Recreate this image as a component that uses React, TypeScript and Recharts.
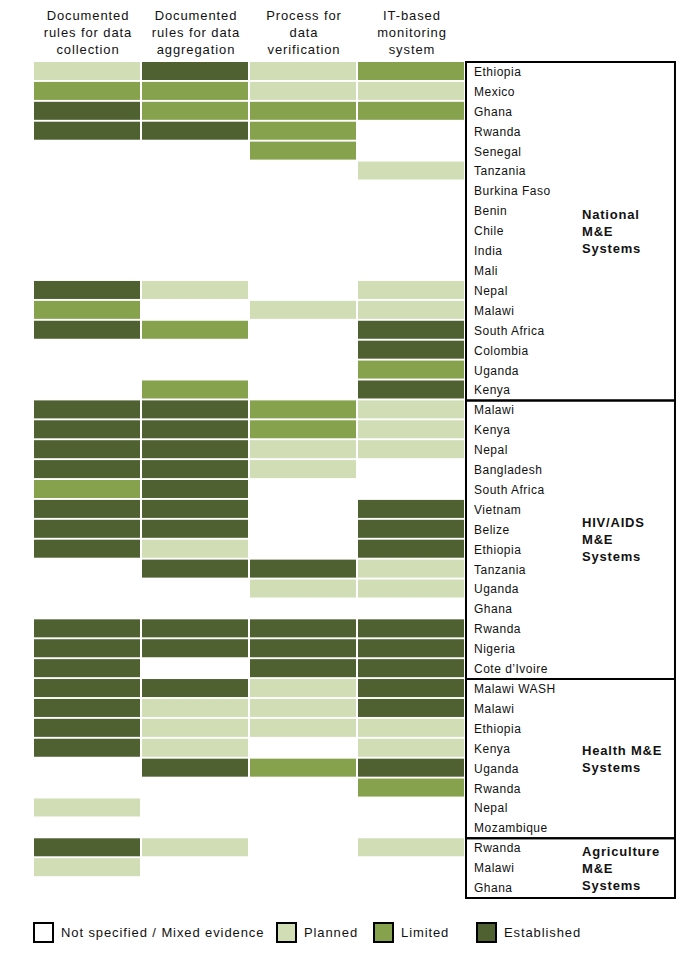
import { BarChart, Bar, XAxis, YAxis, ReferenceArea, Legend } from 'recharts'

// 0 = not specified, 1 = planned, 2 = limited, 3 = established
const columnHeaders = [
  ['Documented', 'rules for data', 'collection'],
  ['Documented', 'rules for data', 'aggregation'],
  ['Process for', 'data', 'verification'],
  ['IT-based', 'monitoring', 'system'],
]

const statusLabels = ['Not specified / Mixed evidence', 'Planned', 'Limited', 'Established']
const statusColors = ['#ffffff', '#d0ddb5', '#86a24c', '#4f6031']

const nationalTitle = ['National', 'M&E', 'Systems']
const nationalCountries = [
  'Ethiopia', 'Mexico', 'Ghana', 'Rwanda', 'Senegal', 'Tanzania', 'Burkina Faso', 'Benin', 'Chile',
  'India', 'Mali', 'Nepal', 'Malawi', 'South Africa', 'Colombia', 'Uganda', 'Kenya',
]
const nationalStatus = [
  [1, 3, 1, 2], [2, 2, 1, 1], [3, 2, 2, 2], [3, 3, 2, 0], [0, 0, 2, 0], [0, 0, 0, 1],
  [0, 0, 0, 0], [0, 0, 0, 0], [0, 0, 0, 0], [0, 0, 0, 0], [0, 0, 0, 0],
  [3, 1, 0, 1], [2, 0, 1, 1], [3, 2, 0, 3], [0, 0, 0, 3], [0, 0, 0, 2], [0, 2, 0, 3],
]

const hivTitle = ['HIV/AIDS', 'M&E', 'Systems']
const hivCountries = [
  'Malawi', 'Kenya', 'Nepal', 'Bangladesh', 'South Africa', 'Vietnam', 'Belize', 'Ethiopia',
  'Tanzania', 'Uganda', 'Ghana', 'Rwanda', 'Nigeria', 'Cote d’Ivoire',
]
const hivStatus = [
  [3, 3, 2, 1], [3, 3, 2, 1], [3, 3, 1, 1], [3, 3, 1, 0], [2, 3, 0, 0], [3, 3, 0, 3], [3, 3, 0, 3],
  [3, 1, 0, 3], [0, 3, 3, 1], [0, 0, 1, 1], [0, 0, 0, 0], [3, 3, 3, 3], [3, 3, 3, 3], [3, 0, 3, 3],
]

const healthTitle = ['Health M&E', 'Systems']
const healthCountries = ['Malawi WASH', 'Malawi', 'Ethiopia', 'Kenya', 'Uganda', 'Rwanda', 'Nepal', 'Mozambique']
const healthStatus = [
  [3, 3, 1, 3], [3, 1, 1, 3], [3, 1, 1, 1], [3, 1, 0, 1], [0, 3, 2, 3], [0, 0, 0, 2], [1, 0, 0, 0], [0, 0, 0, 0],
]

const agriTitle = ['Agriculture', 'M&E', 'Systems']
const agriCountries = ['Rwanda', 'Malawi', 'Ghana']
const agriStatus = [[3, 1, 0, 1], [1, 0, 0, 0], [0, 0, 0, 0]]

const groups = [
  { title: nationalTitle, countries: nationalCountries, status: nationalStatus },
  { title: hivTitle, countries: hivCountries, status: hivStatus },
  { title: healthTitle, countries: healthCountries, status: healthStatus },
  { title: agriTitle, countries: agriCountries, status: agriStatus },
]

const rows = groups.flatMap((g, gi) =>
  g.countries.map((name, i) => {
    const row: Record<string, string | number> = { id: `${gi}-${i}`, name }
    g.status[i].forEach((s, k) => {
      row[`c${k}`] = 1
      row[`s${k}`] = s
    })
    return row
  })
)
const nameById: Record<string, string> = Object.fromEntries(rows.map((r) => [r.id, r.name]))

const FONT = '"Liberation Sans", Arial, Helvetica, sans-serif'
const BOX_RIGHT = 5.935
const legendX = [33, 276, 373, 476]

const cellShape = (k: number) => (props: any) => {
  const { x, y, width, height, payload } = props
  const s = payload[`s${k}`]
  if (!s) return <g />
  return <rect x={x} y={y} width={width - 2} height={height - 2} fill={statusColors[s]} />
}

function HeaderTick({ x, y, payload }: any) {
  const lines = columnHeaders[Math.floor(payload.value)]
  return (
    <text textAnchor="middle" fontSize={13} fontFamily={FONT} fill="#111" style={{ letterSpacing: 0.9 }}>
      {lines.map((l, i) => (
        <tspan key={i} x={x} y={y - (lines.length - 1 - i) * 17}>
          {l}
        </tspan>
      ))}
    </text>
  )
}

function RowTick({ x, y, payload }: any) {
  return (
    <text x={x} y={y + 4} fontSize={12} fontFamily={FONT} fill="#111" style={{ letterSpacing: 0.5 }}>
      {nameById[payload.value]}
    </text>
  )
}

const groupLabel = (lines: string[]) => (props: any) => {
  const { x, y, height } = props.viewBox
  const cy = y + height / 2
  return (
    <text fontSize={13} fontWeight="bold" fontFamily={FONT} fill="#111" style={{ letterSpacing: 0.8 }}>
      {lines.map((l, i) => (
        <tspan key={i} x={x + 116} y={cy + (i - (lines.length - 1) / 2) * 17 + 4.5}>
          {l}
        </tspan>
      ))}
    </text>
  )
}

function StatusLegend() {
  return (
    <div style={{ position: 'relative', width: 700, height: 24, fontFamily: FONT, fontSize: 13, letterSpacing: 0.9, color: '#111' }}>
      {statusLabels.map((label, i) => (
        <div key={label} style={{ position: 'absolute', left: legendX[i], top: 0, display: 'flex', alignItems: 'center', whiteSpace: 'nowrap' }}>
          <span style={{ display: 'inline-block', width: 17, height: 17, border: '2px solid #000', background: statusColors[i] }} />
          <span style={{ marginLeft: 7 }}>{label}</span>
        </div>
      ))}
    </div>
  )
}

export default function App() {
  let start = 0
  const spans = groups.map((g, gi) => {
    const span = { gi, first: `${gi}-0`, last: `${gi}-${g.countries.length - 1}`, title: g.title }
    start += g.countries.length
    return span
  })

  return (
    <div style={{ position: 'absolute', left: 0, top: 0, width: 700, height: 970, background: '#fff' }}>
      <BarChart
        width={700}
        height={970}
        data={rows}
        layout="vertical"
        margin={{ top: 0, left: 34, right: 24, bottom: 72 }}
        barCategoryGap={0}
        barGap={0}
      >
        <XAxis
          type="number"
          orientation="top"
          domain={[0, 4]}
          ticks={[0.5, 1.5, 2.5, 3.5]}
          height={62}
          axisLine={false}
          tickLine={false}
          tickSize={6}
          tickMargin={2}
          tick={<HeaderTick />}
        />
        <YAxis
          type="category"
          dataKey="id"
          orientation="right"
          width={210}
          interval={0}
          axisLine={false}
          tickLine={false}
          tickSize={6}
          tickMargin={2}
          tick={<RowTick />}
        />
        {[0, 1, 2, 3].map((k) => (
          <Bar
            key={k}
            dataKey={`c${k}`}
            stackId="cells"
            shape={cellShape(k)}
            isAnimationActive={false}
          />
        ))}
        {spans.map((s) => (
          <ReferenceArea
            key={s.gi}
            x1={4}
            x2={BOX_RIGHT}
            y1={s.first}
            y2={s.last}
            ifOverflow="visible"
            fill="none"
            fillOpacity={0}
            stroke="#000"
            strokeWidth={2}
            strokeOpacity={1}
            label={groupLabel(s.title)}
          />
        ))}
        <Legend
          layout="horizontal"
          verticalAlign="middle"
          align="center"
          wrapperStyle={{ top: 922, left: 0, width: 700 }}
          content={<StatusLegend />}
        />
      </BarChart>
    </div>
  )
}
